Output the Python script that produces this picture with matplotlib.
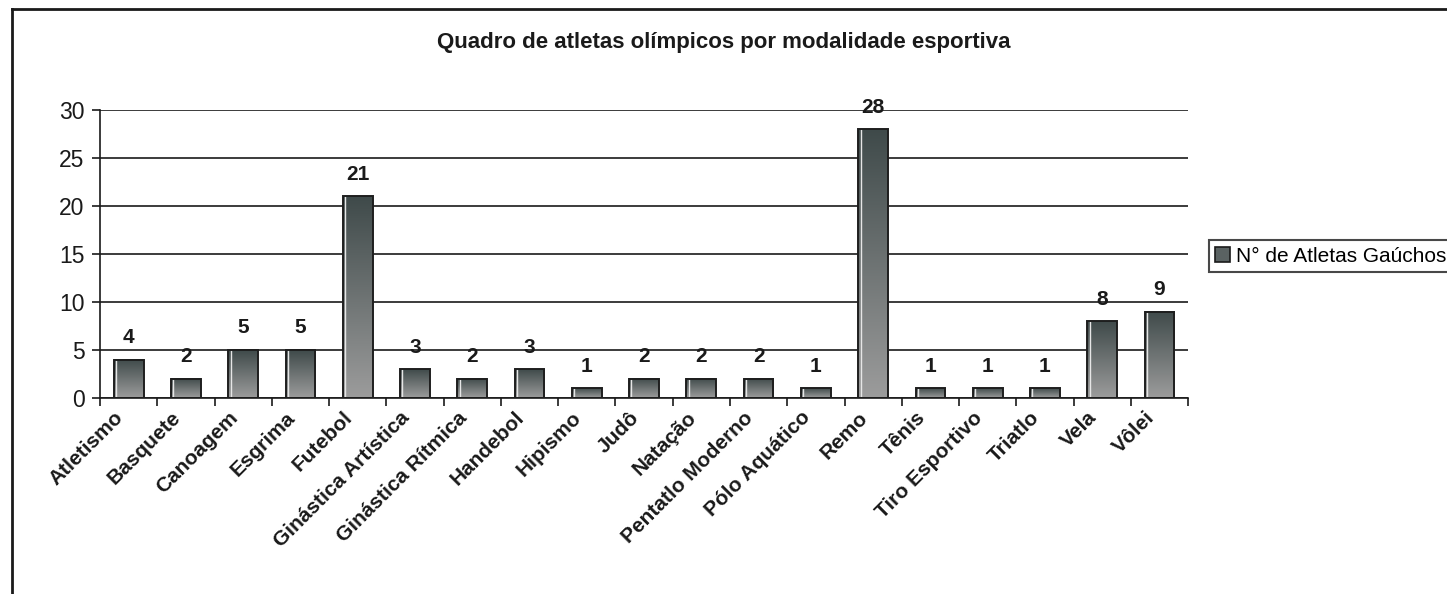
import numpy as np
import matplotlib
matplotlib.use('Agg')
import matplotlib.pyplot as plt
import matplotlib.transforms as mtransforms
from matplotlib.patches import Patch
from matplotlib.lines import Line2D

plt.rcParams['font.family'] = ['Liberation Sans', 'DejaVu Sans']

# Data
modalidades = ['Atletismo', 'Basquete', 'Canoagem', 'Esgrima', 'Futebol',
               'Ginástica Artística', 'Ginástica Rítmica', 'Handebol', 'Hipismo',
               'Judô', 'Natação', 'Pentatlo Moderno', 'Pólo Aquático', 'Remo',
               'Tênis', 'Tiro Esportivo', 'Triatlo', 'Vela', 'Vôlei']
atletas = [4, 2, 5, 5, 21, 3, 2, 3, 1, 2, 2, 2, 1, 28, 1, 1, 1, 8, 9]
serie = 'N° de Atletas Gaúchos'
titulo = 'Quadro de atletas olímpicos por modalidade esportiva'

fig = plt.figure(figsize=(14.47, 5.94), dpi=100)
ax = fig.add_axes([0.0691, 0.330, 0.7520, 0.4848])

x = np.arange(len(modalidades))
width = 0.52

# gradient fill for each bar (dark top, light bottom)
grad = np.linspace(0, 1, 256).reshape(-1, 1)
cmap = matplotlib.colors.LinearSegmentedColormap.from_list('g', ['#3f4a4a', '#9c9c9c'])
for xi, v in zip(x, atletas):
    ax.imshow(grad, extent=(xi - width / 2, xi + width / 2, 0, v), aspect='auto',
              cmap=cmap, origin='upper', zorder=2)
    # light edge on the left side of each bar
    ax.plot([xi - width / 2 + 0.04, xi - width / 2 + 0.04], [0, v], color='#e6e6e6',
            linewidth=1, zorder=2.5)
bars = ax.bar(x, atletas, width=width, facecolor='none', edgecolor='#1e1e1e',
              linewidth=1.4, zorder=3)

for xi, v in zip(x, atletas):
    ax.annotate(str(v), (xi, v), xytext=(0, 9), textcoords='offset points',
                ha='center', va='bottom', fontsize=15, fontweight='bold', color='#1a1a1a')

ax.set_xlim(-0.5, len(modalidades) - 0.5)
ax.set_ylim(0, 30)
ax.set_yticks(range(0, 31, 5))
ax.yaxis.grid(True, color='#1a1a1a', linewidth=1.2)
ax.set_axisbelow(True)

ax.set_xticks(np.arange(len(modalidades) + 1) - 0.5)
ax.set_xticklabels([])
ax.tick_params(axis='x', direction='out', length=6, width=1.2, color='#1a1a1a')
ax.tick_params(axis='y', direction='out', length=6, width=1.2, color='#1a1a1a',
               labelsize=16.5, labelcolor='#1a1a1a', pad=5)

# rotated category labels
offset = mtransforms.ScaledTranslation(-0.15, -0.10, fig.dpi_scale_trans)
for xi, nome in zip(x, modalidades):
    ax.text(xi, 0, nome, transform=ax.get_xaxis_transform() + offset,
            rotation=45, ha='right', va='top', rotation_mode='anchor',
            fontsize=15, fontweight='bold', color='#1a1a1a')

for s in ['top', 'right']:
    ax.spines[s].set_visible(False)
for s in ['left', 'bottom']:
    ax.spines[s].set_color('#1a1a1a')
    ax.spines[s].set_linewidth(1.2)

fig.text(0.5, 0.928, titulo, ha='center', va='center', fontsize=16,
         fontweight='bold', color='#1a1a1a')

handle = Patch(facecolor='#5a6262', edgecolor='#1a1a1a', linewidth=1.2)
leg = fig.legend([handle], [serie], loc='center left', bbox_to_anchor=(0.8355, 0.569),
                 fontsize=15, frameon=True, fancybox=False, handlelength=0.7,
                 handleheight=0.7, handletextpad=0.3, borderpad=0.3, borderaxespad=0)
leg.get_frame().set_edgecolor('#1a1a1a')
leg.get_frame().set_linewidth(1.5)

# outer frame
fig.add_artist(Line2D([0.0083, 0.0083], [0, 0.985], transform=fig.transFigure,
                      color='#1a1a1a', linewidth=2))
fig.add_artist(Line2D([0.0083, 1.0], [0.985, 0.985], transform=fig.transFigure,
                      color='#1a1a1a', linewidth=2))

fig.savefig('out.png', dpi=100)
